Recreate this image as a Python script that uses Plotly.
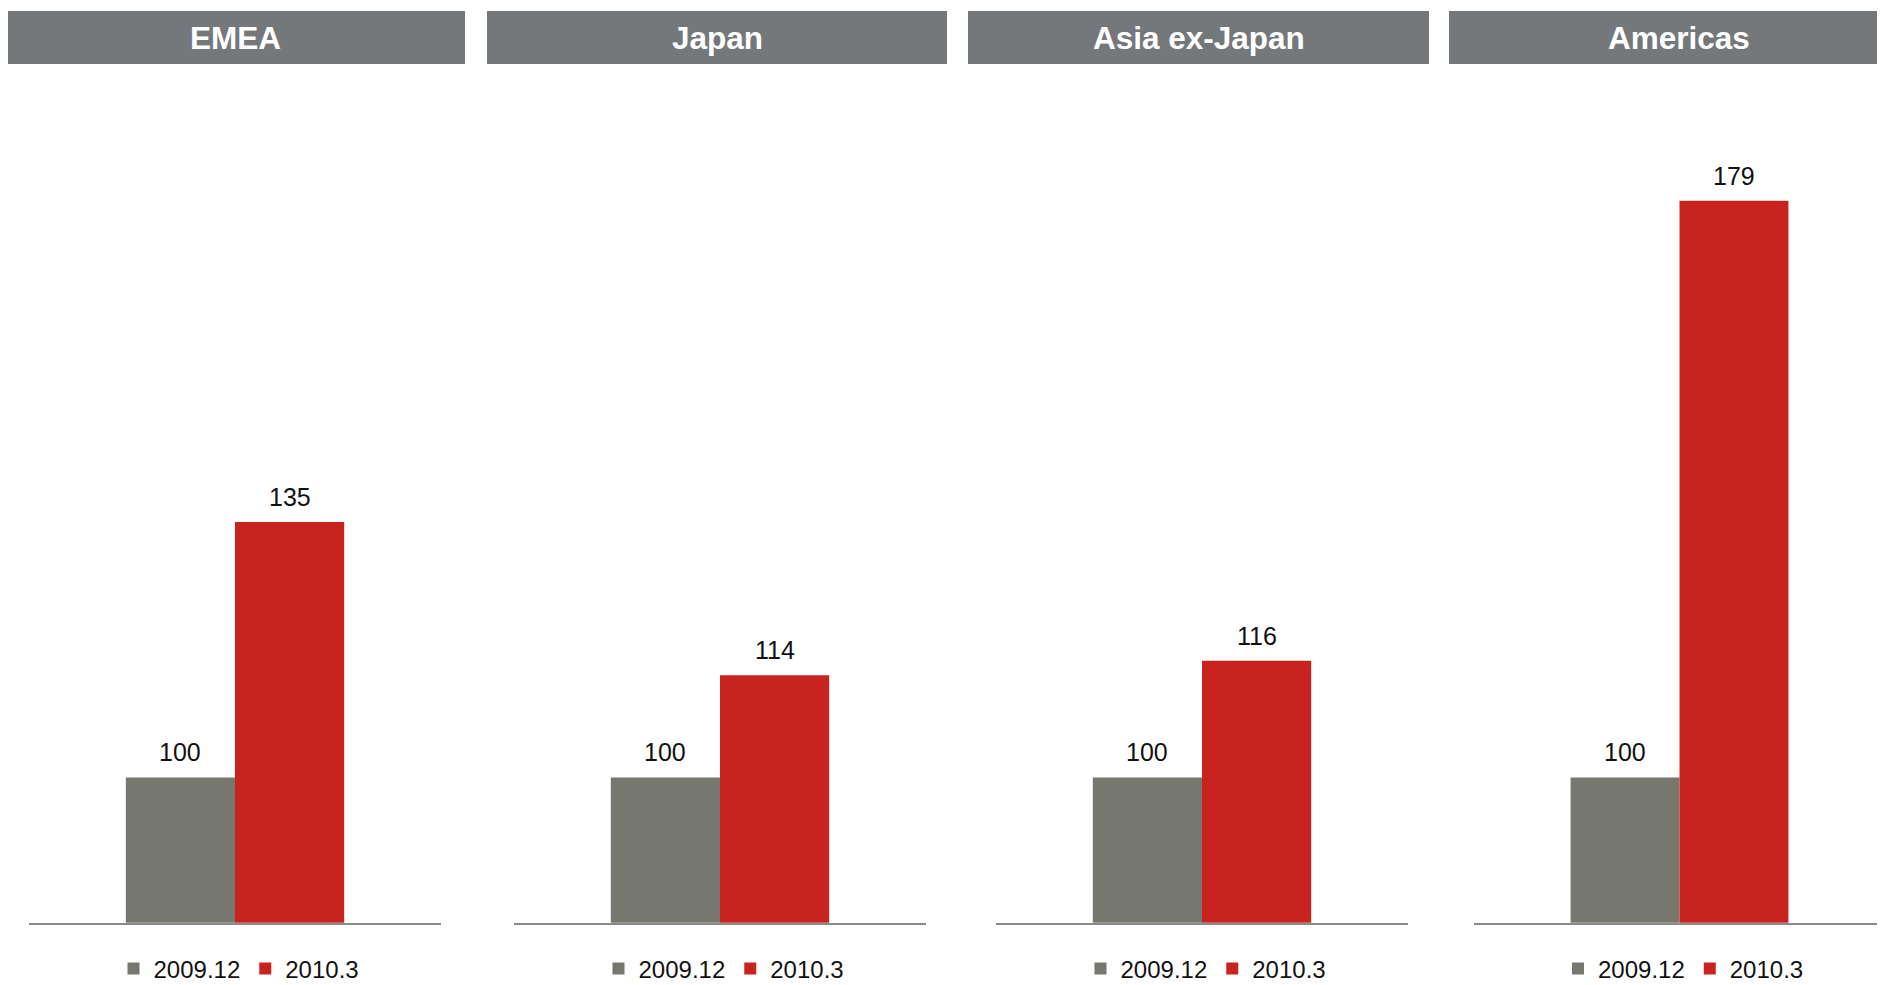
import plotly.graph_objects as go

# ---- data ----
regions = ["EMEA", "Japan", "Asia ex-Japan", "Americas"]
series_names = ["2009.12", "2010.3"]
values_2009_12 = [100, 100, 100, 100]
values_2010_3 = [135, 114, 116, 179]

# ---- style ----
OFF = 8  # page body margin of the browser
W, H = 1885 - OFF, 985 - OFF
gray_bar = "#76786F"
red_bar = "#C9231F"
header_fill = "#75787B"
axis_col = "#8A8A8A"
font_family = "Liberation Sans, Arial, sans-serif"

# positions in reference-screen pixels
panel_px = [(29, 441), (514, 926), (996, 1408), (1474, 1885)]
header_px = [(5, 465), (487, 947), (968, 1429), (1449, 1910)]
header_top, header_bot = 11, 64
axis_bottom_px, axis_top_px = 922.7, 100
legend_y_px = 969
y_range = [80.1, 192.8]
bargap = 0.47


def fx(px):
    return (px - OFF) / W


def fy(px):
    return 1 - (px - OFF) / H


fig = go.Figure()
layout_axes = {}
annotations = []
shapes = []
legends = {}

for i, region in enumerate(regions):
    n = "" if i == 0 else str(i + 1)
    xa, ya = "x" + n, "y" + n
    lg = "legend" + n
    vals = [values_2009_12[i], values_2010_3[i]]
    cols = [gray_bar, red_bar]
    for s, (name, v, c) in enumerate(zip(series_names, vals, cols)):
        fig.add_trace(go.Bar(
            x=[region], y=[v], name=name, marker=dict(color=c, line=dict(width=0)),
            xaxis=xa, yaxis=ya, legend=lg, showlegend=True,
            offsetgroup=str(s), hoverinfo="skip",
        ))
    x0, x1 = panel_px[i]
    dom = [max(0.0, fx(x0)), min(1.0, fx(x1))]
    layout_axes["xaxis" + n] = dict(
        domain=dom, anchor=ya, type="category", range=[-0.5, 0.5],
        showline=True, linecolor=axis_col, linewidth=2,
        showticklabels=False, ticks="", showgrid=False, zeroline=False, fixedrange=True,
    )
    layout_axes["yaxis" + n] = dict(
        domain=[fy(axis_bottom_px), fy(axis_top_px)], anchor=xa,
        range=y_range, visible=False, showgrid=False, zeroline=False, fixedrange=True,
    )
    # value labels above bars
    bar_w_px = (x1 - x0) * (1 - bargap) / 2
    for s, v in enumerate(vals):
        annotations.append(dict(
            x=region, y=v, xref=xa, yref=ya, text=str(v), showarrow=False,
            xshift=(s - 0.5) * bar_w_px, yshift=9, yanchor="bottom", xanchor="center",
            font=dict(family=font_family, size=25, color="#111111"),
        ))
    # header band
    hx0, hx1 = header_px[i]
    shapes.append(dict(
        type="rect", xref="paper", yref="paper", x0=fx(hx0), x1=fx(hx1),
        y0=fy(header_bot), y1=fy(header_top),
        fillcolor=header_fill, line=dict(width=0), layer="below",
    ))
    annotations.append(dict(
        x=fx((hx0 + hx1) / 2) if i < 3 else fx(1397 / 0.832),
        y=fy((header_top + header_bot) / 2), xref="paper", yref="paper",
        text="<b>" + region + "</b>", showarrow=False, xanchor="center", yanchor="middle",
        font=dict(family=font_family, size=31.5, color="white"),
    ))
    legends[lg] = dict(
        orientation="h", x=fx((x0 + x1) / 2 + 4), xanchor="center",
        y=fy(legend_y_px), yanchor="middle", bgcolor="rgba(0,0,0,0)",
        font=dict(family=font_family, size=24, color="#111111"),
        itemclick=False, itemdoubleclick=False, tracegroupgap=0,
    )

fig.update_layout(
    width=W, height=H, margin=dict(l=0, r=0, t=0, b=0, autoexpand=False),
    paper_bgcolor="white", plot_bgcolor="white",
    barmode="group", bargap=bargap, bargroupgap=0,
    shapes=shapes, annotations=annotations,
    font=dict(family=font_family),
    **layout_axes, **legends,
)

fig.write_html("out.html")
